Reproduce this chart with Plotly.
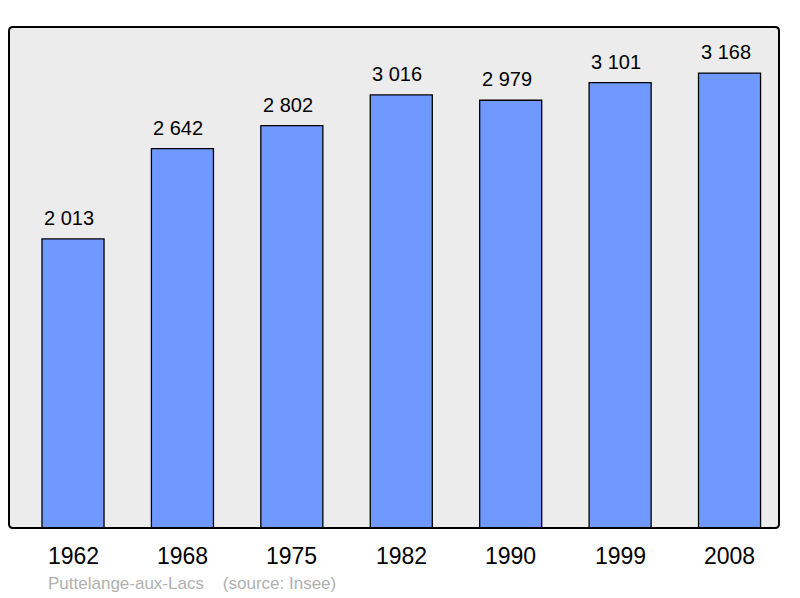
import plotly.graph_objects as go

years = ["1962", "1968", "1975", "1982", "1990", "1999", "2008"]
population = [2013, 2642, 2802, 3016, 2979, 3101, 3168]
labels = ["2 013", "2 642", "2 802", "3 016", "2 979", "3 101", "3 168"]
footer = "Puttelange-aux-Lacs\u00a0\u00a0\u00a0\u00a0(source: Insee)"

W, H = 800, 598
OFF = 8  # page body offset
L, R, T, B = 9 - OFF, 21 + OFF, 27 - OFF, 70 + OFF
pw, ph = W - L - R, H - T - B

xpos = list(range(len(years)))

fig = go.Figure()
fig.add_trace(go.Bar(
    x=xpos, y=population, width=0.567,
    marker=dict(color="#7099ff", line=dict(color="#000000", width=1.3)),
    hoverinfo="skip",
))

ann = []
for xi, v, lab in zip(xpos, population, labels):
    ann.append(dict(x=xi, y=v, xref="x", yref="y", text=lab, showarrow=False,
                    yanchor="bottom", yshift=8, xshift=-4,
                    font=dict(family="Liberation Sans, Arial", size=20, color="#000")))
for xi, yr in zip(xpos, years):
    ann.append(dict(x=xi, y=0, xref="x", yref="paper", text=yr, showarrow=False,
                    yanchor="top", yshift=-13,
                    font=dict(family="Liberation Sans, Arial", size=23, color="#000")))
ann.append(dict(x=(46 - 9) / pw, y=(528 - 583) / ph, xref="paper", yref="paper",
                text=footer, showarrow=False, xanchor="left", yanchor="middle",
                font=dict(family="Liberation Sans, Arial", size=17, color="#b0b0b0")))

# rounded border
r = 4
rx, ry = r / pw, r / ph
path = (f"M {rx},0 L {1-rx},0 Q 1,0 1,{ry} L 1,{1-ry} Q 1,1 {1-rx},1 "
        f"L {rx},1 Q 0,1 0,{1-ry} L 0,{ry} Q 0,0 {rx},0 Z")
fig.add_shape(type="path", path=path, xref="paper", yref="paper",
              line=dict(color="#000", width=2), layer="above")

fig.update_layout(
    width=W, height=H,
    margin=dict(l=L, r=R, t=T, b=B, pad=0),
    paper_bgcolor="#ffffff", plot_bgcolor="#ececec",
    showlegend=False, annotations=ann,
    xaxis=dict(range=[-0.585, 6.452], showgrid=False, zeroline=False,
               showticklabels=False, ticks="", fixedrange=True),
    yaxis=dict(range=[0, 3489], showgrid=False, zeroline=False,
               showticklabels=False, ticks="", fixedrange=True),
)
fig.write_html("out.html")
